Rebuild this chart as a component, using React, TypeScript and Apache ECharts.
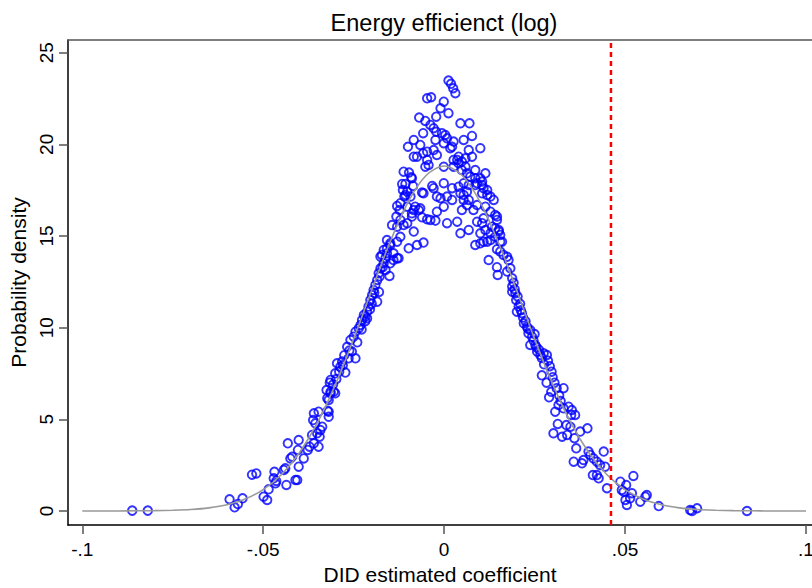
import React, { useEffect, useRef } from "react";
import * as echarts from "echarts";

const chartTitle = "Energy efficienct (log)";
const xAxisTitle = "DID estimated coefficient";
const yAxisTitle = "Probability density";
const xTickValues = [-0.1, -0.05, 0, 0.05, 0.1];
const xTickLabels = ["-.1", "-.05", "0", ".05", ".1"];
const yTickValues = [0, 5, 10, 15, 20, 25];
const yTickLabels = ["0", "5", "10", "15", "20", "25"];
const actualEstimate = 0.0461;

const curveX = [
  -0.1, -0.095, -0.09, -0.085, -0.08, -0.075, -0.07, -0.065, -0.06, -0.055, -0.05,
  -0.045, -0.04, -0.035, -0.03, -0.025, -0.02, -0.015, -0.01, -0.005, 0,
  0.005, 0.01, 0.015, 0.02, 0.025, 0.03, 0.035, 0.04, 0.045, 0.05,
  0.055, 0.06, 0.065, 0.07, 0.075, 0.08, 0.085, 0.09, 0.095, 0.1,
];
const curveDensity = [
  0, 0, 0, 0.01, 0.02, 0.04, 0.08, 0.17, 0.34, 0.65, 1.17,
  1.98, 3.18, 4.82, 6.92, 9.39, 12.06, 14.65, 16.84, 18.3, 18.82,
  18.3, 16.84, 14.65, 12.06, 9.39, 6.92, 4.82, 3.18, 1.98, 1.17,
  0.65, 0.34, 0.17, 0.08, 0.04, 0.02, 0.01, 0, 0, 0,
];

const placeboX = [
  -0.0862, -0.0819,
  -0.0593, -0.0579, -0.057, -0.0557, -0.0531, -0.0519, -0.0499, -0.0489, -0.0485, -0.0469,
  -0.0471, -0.0466, -0.0464, -0.0443, -0.0439, -0.0436, -0.0432, -0.0425, -0.042, -0.0411,
  -0.0402, -0.0404, -0.0402,
  -0.0406, -0.0388, -0.0377, -0.0372, -0.0365, -0.036, -0.0356, -0.0351, -0.0347, -0.036,
  -0.0362, -0.0347, -0.0342, -0.0337, -0.0344, -0.0322, -0.0319, -0.0323, -0.0314, -0.0325,
  -0.0301, -0.0316,
  -0.0319, -0.0319, -0.0314, -0.0305, -0.0314, -0.0301, -0.0296, -0.0282, -0.0287, -0.0273,
  -0.0264, -0.0245, -0.0268, -0.0259, -0.025, -0.0245, -0.0236, -0.0231, -0.0227, -0.0218,
  -0.0213, -0.0222, -0.0209, -0.0204, -0.0199, -0.0195, -0.019, -0.0185, -0.0181, -0.0176,
  -0.0167, -0.0162, -0.0172, -0.0158, -0.0149, -0.0185, -0.018, -0.0151, -0.0162, -0.0149,
  -0.014, -0.0126, -0.014, -0.0213,
  -0.024, -0.0255, -0.0228, -0.0205, -0.0193, -0.0178, -0.017, -0.0276, -0.029, -0.0298,
  -0.0307, -0.028, -0.0262, -0.0218, -0.02,
  -0.0047, -0.0036, -0.0069, -0.0052, -0.0038, -0.0029, -0.0022, -0.0058, -0.0084, -0.01,
  -0.0066, -0.0024, -0.0029, -0.0047, -0.0058, -0.0075, -0.0084, -0.0047, -0.002, -0.0043,
  -0.0052, -0.0097, -0.0091, -0.0116, -0.0107, -0.0114, -0.0102, -0.011, -0.0086, -0.0061,
  -0.0033, -0.0029, -0.013, -0.0123, -0.0102, -0.0084, -0.0066, -0.0132, -0.0121, -0.0102,
  -0.0089, -0.0061, -0.0047, -0.0024, -0.002, -0.002, -0.0144, -0.013, -0.0112, -0.0084,
  -0.0158, -0.0149, -0.013, -0.0121, -0.0098, -0.0075, -0.0057, -0.0167, -0.0158, -0.0176,
  -0.013,
  0.0012, 0.0019, 0.0025, 0.0031, -0.0001, -0.001, 0.0012, -0.0022, 0.0045, 0.007,
  -0.0006, 0.0003, 0.0008, -0.0001, 0.0026, 0.0022, 0.0017, 0.0054, 0.0077, 0.01,
  0.0068, 0.0077, 0.0059, 0.004, 0.0036, 0.0026, 0.0049, 0.0059, 0.0026, -0.0001,
  -0.0112, -0.0089, -0.0107, -0.0093, -0.008, -0.007, -0.0057, -0.0001, 0.0022, -0.001,
  0.0008, 0.0022, -0.0001, 0.0049, 0.0063, 0.0086, 0.0072, 0.01, 0.0114, 0.0091,
  0.0105, 0.0119, 0.0128, 0.0137, 0.0105, 0.0063, 0.0054, 0.0068, 0.0049, 0.0081,
  0.0091, 0.0114, 0.0128, 0.0141, 0.0146, 0.0105, 0.0132, 0.0151, -0.0121, -0.0089,
  -0.0038, 0.0008, 0.0036, 0.0045, 0.0068, 0.01, 0.0109, 0.0119, 0.0128, 0.0141,
  0.0155, 0.0086, 0.01, 0.0155, 0.0164, 0.0123,
  0.004, 0.0086, 0.004, 0.0054, 0.0068, 0.0086, 0.0105, 0.0109, 0.0045, 0.0054,
  0.0119, 0.0063, 0.0091, 0.0109, 0.0146, 0.0114, 0.0128, 0.0141, 0.0151, 0.0155,
  0.0146, 0.016, 0.0174, 0.0178, 0.0183, 0.0146, 0.0148, 0.0174, 0.0188, 0.0188,
  0.0188, 0.0197, 0.0199, 0.0206, 0.0201, 0.0215, 0.022, 0.0229, 0.0238, 0.0233,
  0.0243, 0.0238, 0.0252, 0.0257, 0.0266, 0.0275, 0.0284,
  0.0192, 0.0195, 0.0203, 0.021, 0.0212, 0.0218, 0.0225, 0.0231, 0.0247, 0.0255,
  0.0262, 0.027, 0.025,
  0.0287, 0.0292, 0.0297, 0.03, 0.0305, 0.0311, 0.0318, 0.0322, 0.027, 0.0283,
  0.0296, 0.029, 0.033, 0.0276,
  0.0307, 0.0316, 0.0302, 0.0326, 0.034, 0.0314, 0.0338, 0.0349, 0.036, 0.0365,
  0.0376, 0.0396, 0.0351, 0.0362, 0.0344, 0.033, 0.0353, 0.0358, 0.0381, 0.0385,
  0.0399, 0.0404, 0.0413, 0.0422, 0.0431, 0.0411, 0.0422, 0.0427, 0.0441, 0.0445,
  0.045, 0.0487, 0.0503, 0.0491, 0.0496, 0.0523, 0.0519, 0.0501, 0.0505, 0.0514,
  0.0542, 0.0556, 0.056, 0.0593, 0.068, 0.0685, 0.0699, 0.0837,
];
const placeboDensity = [
  0.02, 0.02,
  0.64, 0.2, 0.38, 0.69, 1.98, 2.05, 0.78, 0.6, 1.18, 2.14,
  1.78, 1.51, 1.64, 2.24, 2.33, 1.42, 3.69, 2.87, 2.96, 1.69,
  3.87, 3.33, 2.42,
  1.69, 2.87, 3.33, 3.51, 4.15, 3.69, 4.78, 4.24, 3.51, 5.33,
  4.96, 5.42, 4.42, 4.6, 4.05, 5.47, 5.14, 6.15, 6.42, 6.6,
  6.42, 7.0,
  5.42, 6.06, 6.51, 6.51, 7.15, 7.51, 8.06, 8.15, 7.87, 7.55,
  8.33, 8.33, 8.96, 9.33, 9.51, 9.78, 9.97, 10.15, 10.42, 10.6,
  10.87, 10.69, 11.15, 11.51, 11.78, 12.06, 12.33, 12.6, 12.97, 13.24,
  13.51, 13.79, 13.97, 14.33, 14.6, 11.42, 11.95, 12.82, 13.15, 13.51,
  13.69, 13.79, 14.06, 10.51,
  9.2, 8.7, 9.9, 11.0, 11.9, 12.8, 13.3, 8.5, 7.6, 7.2,
  6.9, 7.95, 8.75, 10.35, 11.3,
  22.51, 22.57, 21.46, 21.28, 21.06, 20.88, 20.69, 20.61, 20.24, 19.87,
  19.97, 20.24, 19.69, 19.6, 19.51, 19.33, 19.33, 19.15, 19.42, 18.88,
  18.78, 18.46, 18.21, 17.84, 17.84, 17.51, 17.42, 17.15, 17.73, 17.37,
  17.73, 17.61, 16.64, 16.42, 16.6, 16.42, 16.51, 16.06, 15.88, 15.7,
  16.06, 16.02, 15.91, 15.84, 16.33, 17.15, 15.6, 15.51, 15.6, 15.24,
  14.78, 14.51, 14.69, 14.96, 14.33, 14.51, 14.64, 14.24, 14.06, 13.87,
  13.79,
  23.48, 23.3, 23.06, 22.79, 22.33, 21.97, 21.7, 21.51, 21.15, 21.15,
  20.61, 20.51, 20.33, 20.06, 20.15, 19.87, 19.79, 20.24, 20.46, 19.79,
  19.69, 19.33, 19.24, 19.33, 19.15, 19.15, 19.06, 18.78, 18.78, 18.78,
  18.51, 18.15, 17.24, 17.15, 16.6, 16.42, 17.33, 17.88, 17.61, 17.06,
  17.15, 16.97, 16.6, 18.6, 18.42, 18.6, 18.24, 18.15, 18.42, 17.88,
  17.78, 17.51, 17.15, 16.97, 17.33, 17.42, 17.24, 16.97, 16.42, 16.42,
  16.69, 16.6, 16.33, 16.15, 15.88, 15.7, 15.51, 15.33, 16.79, 16.24,
  15.88, 15.7, 15.78, 15.15, 15.33, 15.15, 14.69, 14.69, 14.78, 14.96,
  14.69, 14.51, 14.6, 14.15, 13.97, 13.69,
  18.97, 18.15, 17.69, 17.88, 17.78, 17.78, 17.97, 17.61, 17.33, 16.97,
  17.24, 16.69, 15.78, 15.97, 16.06, 15.33, 15.15, 15.42, 15.24, 15.06,
  14.28, 14.69, 13.87, 13.69, 13.24, 13.3, 12.88, 13.06, 12.69, 12.24,
  11.96, 11.88, 11.51, 11.15, 10.87, 10.79, 10.24, 10.05, 9.87, 9.69,
  9.51, 9.06, 9.06, 8.69, 8.51, 8.6, 8.51,
  12.45, 12.1, 11.7, 11.3, 10.95, 10.55, 10.35, 9.95, 9.3, 8.95,
  8.8, 8.35, 9.65,
  8.2, 7.9, 7.6, 7.3, 7.0, 6.7, 6.3, 6.0, 7.4, 7.0,
  6.5, 6.2, 6.7, 8.0,
  5.42, 5.78, 4.24, 4.05, 4.15, 4.75, 4.69, 4.6, 3.97, 3.42,
  4.33, 4.51, 5.24, 5.24, 5.69, 5.6, 5.51, 2.69, 2.6, 2.78,
  3.24, 3.06, 2.87, 2.69, 2.51, 1.96, 1.96, 1.78, 3.24, 2.42,
  1.24, 1.6, 1.42, 1.15, 1.05, 1.91, 0.97, 0.6, 0.33, 0.69,
  0.51, 0.78, 0.87, 0.27, 0.05, 0.0, 0.15, 0.0,
];

const FONT = "'Liberation Sans', Arial, Helvetica, sans-serif";

function labelFor(values: number[], labels: string[], v: number): string {
  const i = values.findIndex((t) => Math.abs(t - v) < 1e-9);
  return i >= 0 ? labels[i] : "";
}

export default function App() {
  const ref = useRef<HTMLDivElement>(null);

  useEffect(() => {
    if (!ref.current) return;
    const chart = echarts.init(ref.current, undefined, { renderer: "svg" });
    const xMin = -0.10395;
    const xMax = 0.10166;
    const yMin = -0.764;
    const yMax = 25.693;
    const scatterData = placeboX.map((x, i) => [x, placeboDensity[i]]);
    const curveData = curveX.map((x, i) => [x, curveDensity[i]]);
    const cutoffData = [
      [actualEstimate, yMin],
      [actualEstimate, yMax - 0.12],
    ];

    chart.setOption({
      animation: false,
      backgroundColor: "#ffffff",
      textStyle: { fontFamily: FONT },
      title: {
        text: chartTitle,
        left: 439,
        textAlign: "center",
        top: 6,
        textStyle: { fontFamily: FONT, fontSize: 23.5, fontWeight: "normal", color: "#000" },
      },
      grid: { left: 68, top: 40, right: 0, bottom: 63, containLabel: false, outerBoundsMode: "none" },
      xAxis: [
        {
          type: "value",
          min: xMin,
          max: xMax,
          position: "bottom",
          name: xAxisTitle,
          nameLocation: "middle",
          nameGap: 34,
          nameTextStyle: { fontFamily: FONT, fontSize: 21, color: "#000" },
          axisLine: { show: true, onZero: false, lineStyle: { color: "#000", width: 1.5 } },
          axisTick: {
            show: true,
            customValues: xTickValues,
            length: 9,
            lineStyle: { color: "#555", width: 1.5 },
          },
          axisLabel: {
            customValues: xTickValues,
            margin: 15,
            fontFamily: FONT,
            fontSize: 19,
            color: "#000",
            formatter: (v: number) => labelFor(xTickValues, xTickLabels, v),
          },
          splitLine: { show: false },
        },
        {
          type: "value",
          min: xMin,
          max: xMax,
          position: "top",
          axisLine: { show: true, onZero: false, lineStyle: { color: "#555", width: 1.5 } },
          axisTick: { show: false },
          axisLabel: { show: false },
          splitLine: { show: false },
        },
      ],
      yAxis: {
        type: "value",
        min: yMin,
        max: yMax,
        name: yAxisTitle,
        nameLocation: "middle",
        nameRotate: 90,
        nameGap: 30,
        nameTextStyle: { fontFamily: FONT, fontSize: 21, color: "#000" },
        axisLine: { show: true, onZero: false, lineStyle: { color: "#000", width: 1.5 } },
        axisTick: {
          show: true,
          customValues: yTickValues,
          length: 9,
          lineStyle: { color: "#555", width: 1.5 },
        },
        axisLabel: {
          customValues: yTickValues,
          rotate: 90,
          margin: 12,
          fontFamily: FONT,
          fontSize: 19,
          color: "#000",
          formatter: (v: number) => labelFor(yTickValues, yTickLabels, v),
        },
        splitLine: { show: false },
      },
      series: [
        {
          type: "scatter",
          xAxisIndex: 0,
          data: scatterData,
          symbol: "circle",
          symbolSize: 8.5,
          itemStyle: { color: "rgba(0,0,0,0)", borderColor: "#0000ff", borderWidth: 1.9 },
          emphasis: { disabled: true },
        },
        {
          type: "line",
          xAxisIndex: 0,
          data: curveData,
          showSymbol: false,
          symbol: "none",
          smooth: 0.3,
          lineStyle: { color: "#999999", width: 1.6 },
          emphasis: { disabled: true },
        },
        {
          type: "line",
          xAxisIndex: 0,
          data: cutoffData,
          showSymbol: false,
          symbol: "none",
          lineStyle: { color: "#ff0000", width: 2.5, type: [5, 4] },
          emphasis: { disabled: true },
          z: 4,
        },
      ],
    });

    return () => chart.dispose();
  }, []);

  return (
    <div
      ref={ref}
      style={{ position: "absolute", left: 0, top: 0, width: 812, height: 588 }}
    />
  );
}
